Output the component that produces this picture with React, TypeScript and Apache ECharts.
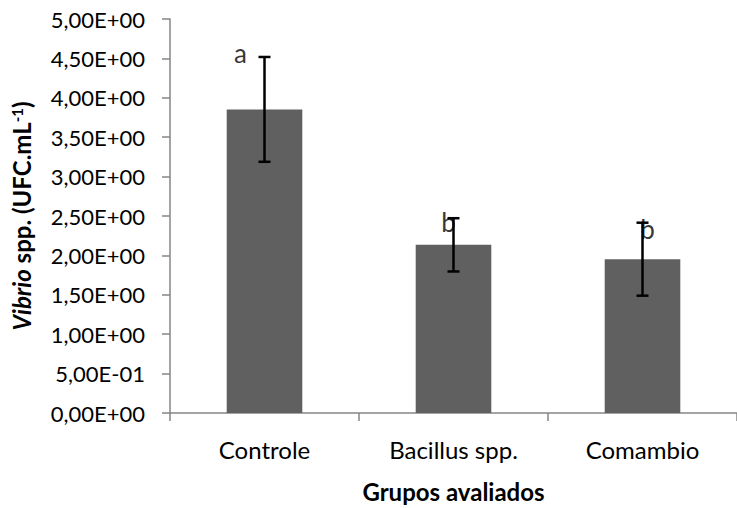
import React, { useEffect, useRef } from "react";
import * as echarts from "echarts";

const categories = ["Controle", "Bacillus spp.", "Comambio"];
const means = [3.853, 2.134, 1.952];
const errors = [0.665, 0.338, 0.463];
const letters = ["a", "b", "b"];
const yTickLabels = [
  "0,00E+00",
  "5,00E-01",
  "1,00E+00",
  "1,50E+00",
  "2,00E+00",
  "2,50E+00",
  "3,00E+00",
  "3,50E+00",
  "4,00E+00",
  "4,50E+00",
  "5,00E+00",
];

const FONT = "Lato";

export default function App() {
  const ref = useRef<HTMLDivElement>(null);

  useEffect(() => {
    if (!ref.current) return;
    const chart = echarts.init(ref.current, null, { renderer: "svg" });

    const letterOffsets = [
      [-24, -4],
      [-5, 4],
      [5, 6],
    ];

    chart.setOption({
      animation: false,
      grid: { left: 170, right: -7, top: 19, bottom: 86, containLabel: false },
      xAxis: {
        type: "category",
        data: categories,
        axisLine: { show: true, lineStyle: { color: "#868686", width: 1.5 } },
        axisTick: { show: true, length: 8, lineStyle: { color: "#868686", width: 1.5 } },
        axisLabel: { color: "#000", fontSize: 24, fontFamily: FONT, margin: 24 },
        name: "Grupos avaliados",
        nameLocation: "middle",
        nameGap: 66,
        nameTextStyle: { color: "#000", fontSize: 24, fontWeight: "bold", fontFamily: FONT },
      },
      yAxis: {
        type: "value",
        min: 0,
        max: 5,
        interval: 0.5,
        splitLine: { show: false },
        axisLine: { show: true, lineStyle: { color: "#868686", width: 1.5 } },
        axisTick: { show: true, length: 8, lineStyle: { color: "#868686", width: 1.5 } },
        axisLabel: {
          color: "#000",
          fontSize: 22,
          fontFamily: FONT,
          margin: 25,
          formatter: (_v: number, i: number) => yTickLabels[i],
        },
        name: "{i|Vibrio}{b| spp. (UFC.mL}{s|-1}{b|)}",
        nameLocation: "middle",
        nameGap: 137,
        nameRotate: 90,
        nameTextStyle: {
          color: "#000",
          fontFamily: FONT,
          rich: {
            i: { fontSize: 24, fontWeight: "bold", fontStyle: "italic", fontFamily: FONT, color: "#000" },
            b: { fontSize: 24, fontWeight: "bold", fontFamily: FONT, color: "#000" },
            s: { fontSize: 15, fontWeight: "bold", fontFamily: FONT, color: "#000", verticalAlign: "top" },
          },
        },
      },
      series: [
        {
          type: "bar",
          data: means,
          barWidth: "40%",
          itemStyle: { color: "#606060" },
          z: 1,
        },
        {
          type: "custom",
          z: 3,
          data: means.map((m, i) => [i, m + errors[i], m - errors[i]]),
          encode: { x: 0, y: [1, 2] },
          renderItem: (params: any, api: any) => {
            const i = api.value(0);
            const hi = api.coord([i, api.value(1)]);
            const lo = api.coord([i, api.value(2)]);
            const hw = 6;
            const style = { stroke: "#000", lineWidth: 2.5 };
            return {
              type: "group",
              children: [
                { type: "line", shape: { x1: hi[0], y1: hi[1], x2: lo[0], y2: lo[1] }, style },
                { type: "line", shape: { x1: hi[0] - hw, y1: hi[1], x2: hi[0] + hw, y2: hi[1] }, style },
                { type: "line", shape: { x1: lo[0] - hw, y1: lo[1], x2: lo[0] + hw, y2: lo[1] }, style },
              ],
            };
          },
        },
        {
          type: "scatter",
          z: 4,
          symbolSize: 0,
          data: means.map((m, i) => ({
            value: [i, m + errors[i]],
            label: { offset: letterOffsets[i] },
          })),
          label: {
            show: true,
            position: "inside",
            color: "#000",
            fontSize: 26,
            fontFamily: FONT,
            formatter: (p: any) => letters[p.dataIndex],
          },
        },
      ],
    });

    return () => chart.dispose();
  }, []);

  return (
    <div
      ref={ref}
      style={{ position: "absolute", left: 0, top: 0, width: 737, height: 508 }}
    />
  );
}
